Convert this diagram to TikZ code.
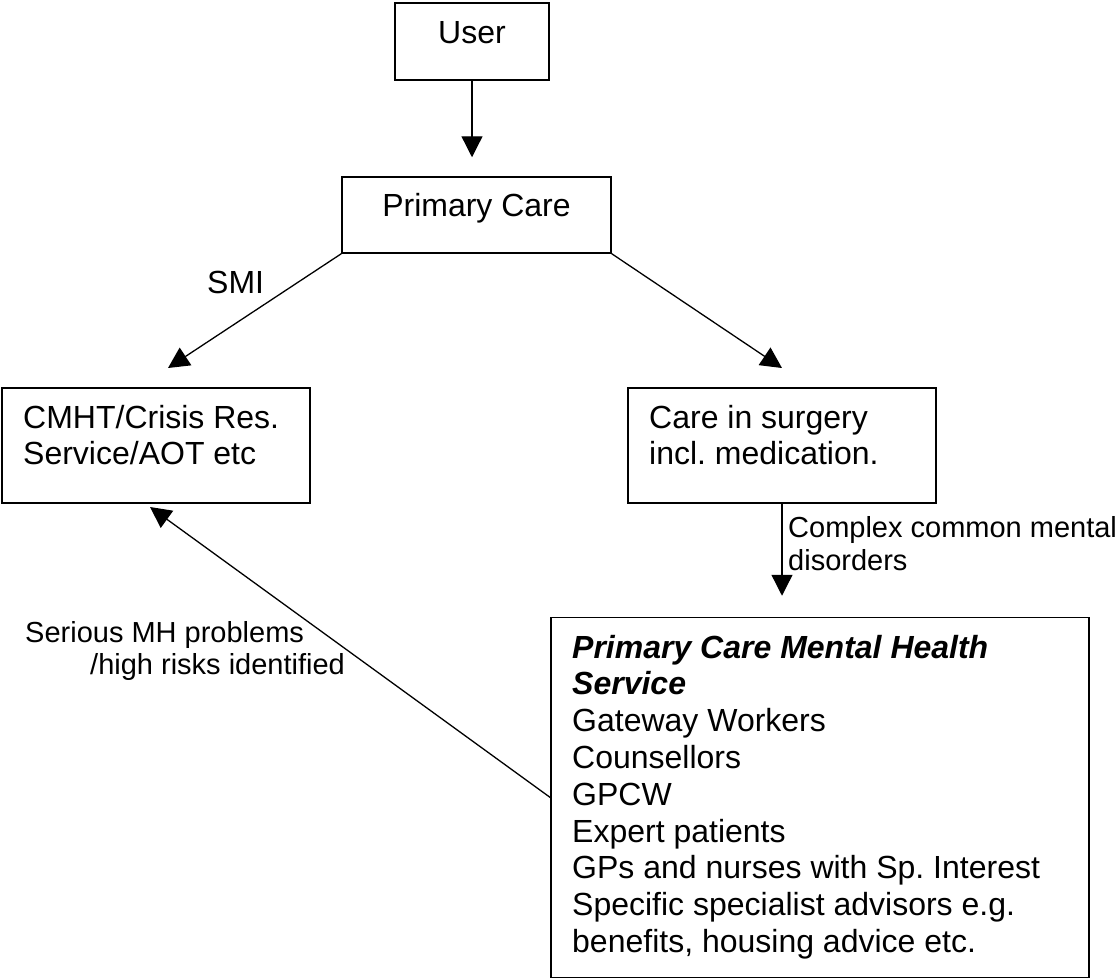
\documentclass[tikz,border=0pt]{standalone}
\usepackage{fontspec}
\setmainfont{Liberation Sans}
\usetikzlibrary{arrows.meta,calc}
\newcommand{\txtlines}[1]{\begin{tabular}[t]{@{}l@{}}#1\end{tabular}}
\frenchspacing
\begin{document}
\begin{tikzpicture}[x=1pt,y=-1pt,
  box/.style={draw, line width=1.5pt, inner sep=0pt},
  txt/.style={inner sep=0pt, font=\fontsize{32}{36.8}\selectfont},
  lbl/.style={inner sep=0pt, font=\fontsize{29}{33.4}\selectfont},
  arr/.style={line width=1.3pt, -{Triangle[length=21pt,width=21pt]}}]
\useasboundingbox (0,0) rectangle (1120,980);

% boxes
\node[box, minimum width=154pt, minimum height=77pt] (user) at (472,41.5) {};
\node[box, minimum width=269pt, minimum height=76pt] (primary) at (476.5,215) {};
\node[box, minimum width=308pt, minimum height=115pt] (cmht) at (156,445.5) {};
\node[box, minimum width=308pt, minimum height=115pt] (care) at (782,445.5) {};
\node[box, minimum width=538pt, minimum height=360pt] (pcmhs) at (820,797.5) {};

% box texts
\node[txt, anchor=base] (usert) at (472,43) {User};
\node[txt, anchor=base] (primaryt) at (476.5,216) {Primary Care};
\node[txt, anchor=base west] (cmhtt) at (23,428) {\txtlines{CMHT/Crisis Res.\\Service/AOT etc}};
\node[txt, anchor=base west] (caret) at (649,428) {\txtlines{Care in surgery\\incl. medication.}};
\node[txt, anchor=base west] (pcmhst) at (572,658) {\txtlines{\textbf{\textit{Primary Care Mental Health}}\\\textbf{\textit{Service}}\\Gateway Workers\\Counsellors\\GPCW\\Expert patients\\GPs and nurses with Sp. Interest\\Specific specialist advisors e.g.\\benefits, housing advice etc.}};

% arrow tips
\coordinate (smitip) at (168,368);
\coordinate (caretip) at (782,368);
\coordinate (sertip) at (150,507);

% connectors
\draw[arr, shorten >=19pt] (user.south) -- (user.south |- primary.north);
\draw[arr] (primary.south west) -- (smitip);
\draw[arr] (primary.south east) -- (caretip);
\draw[arr, shorten >=21pt] (care.south) -- (pcmhs.north -| care.south);
\draw[arr] (pcmhs.west) -- (sertip);

% labels
\node[txt, anchor=base west] (smi) at (207,293) {SMI};
\node[lbl, anchor=base west] (ccmd) at (788,537) {\txtlines{Complex common mental\\disorders}};
\node[lbl, anchor=base west] (ser1) at (25,642) {Serious MH problems};
\node[lbl, anchor=base west] (ser2) at (90,674) {/high risks identified};
\end{tikzpicture}
\end{document}
